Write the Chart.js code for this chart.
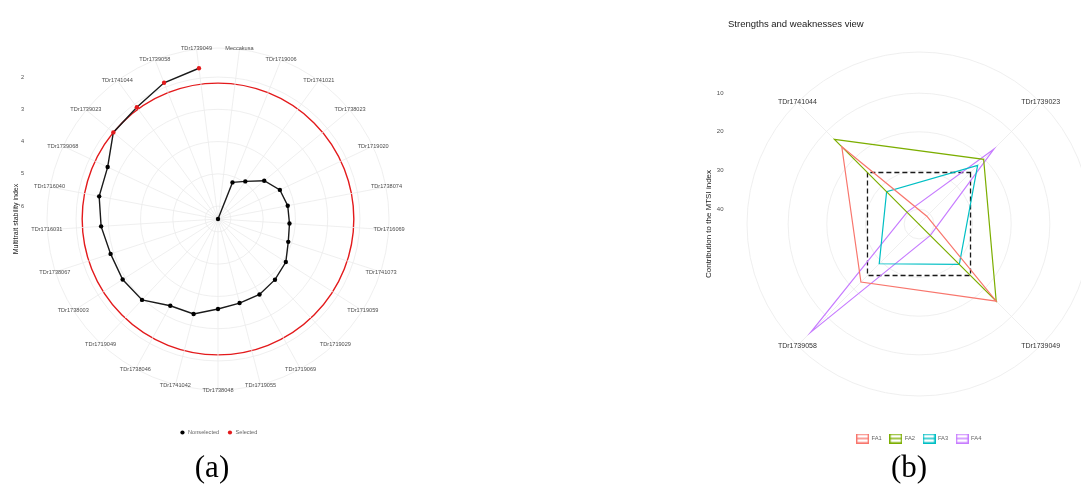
<!DOCTYPE html>
<html>
<head>
<meta charset="utf-8">
<script src="https://cdn.jsdelivr.net/npm/chart.js@4.4.1/dist/chart.umd.min.js"></script>
<style>
  html, body { margin: 0; padding: 0; background: #fff; overflow: hidden; }
  body { width: 1081px; height: 488px; position: relative; }
  canvas { position: absolute; top: 0; }
  #mtsiChart { left: 0; }
  #strengthChart { left: 690px; }
  .caption {
    position: absolute; top: 451px; width: 80px; text-align: center;
    font-family: 'Liberation Serif', 'Times New Roman', serif;
    font-size: 31px; line-height: 31px; color: #000;
  }
</style>
</head>
<body>
<canvas id="mtsiChart" width="440" height="488"></canvas>
<canvas id="strengthChart" width="430" height="488"></canvas>
<div class="caption" style="left:172px">(a)</div>
<div class="caption" style="left:869px">(b)</div>
<script>
// (a) multitrait stability index, genotypes clockwise from the top
var genotypes = ['Meccakusa', 'TDr1719006', 'TDr1741021', 'TDr1738023', 'TDr1719020',
  'TDr1738074', 'TDr1716069', 'TDr1741073', 'TDr1719059', 'TDr1719029', 'TDr1719069',
  'TDr1719055', 'TDr1738048', 'TDr1741042', 'TDr1738046', 'TDr1719049', 'TDr1738003',
  'TDr1738067', 'TDr1716031', 'TDr1716040', 'TDr1739068', 'TDr1739023', 'TDr1741044',
  'TDr1739058', 'TDr1739049'];
var mtsiValues = [6.40, 5.18, 4.96, 4.54, 4.28, 4.20, 4.18, 4.11, 3.91, 3.82, 3.73, 3.71,
  3.61, 3.36, 3.33, 2.96, 2.90, 2.90, 2.77, 2.65, 2.62, 2.19, 2.12, 1.86, 1.69];
var selectedGenotypes = ['TDr1739023', 'TDr1741044', 'TDr1739058', 'TDr1739049'];
var mtsiTicks = [2, 3, 4, 5, 6];
var mtsiRange = [1.10, 6.40];

// (b) strengths and weaknesses, genotypes clockwise from top right
var factorGenotypes = ['TDr1739023', 'TDr1739049', 'TDr1739058', 'TDr1741044'];
var factorNames = ['FA1', 'FA2', 'FA3', 'FA4'];
var fa1 = [41.0, 15.6, 22.6, 15.6];
var fa2 = [20.2, 15.6, 43.8, 12.9];
var fa3 = [22.4, 29.1, 29.3, 32.0];
var fa4 = [16.4, 39.7, 4.3, 39.5];
var equalContribution = [25, 25, 25, 25];
var contributionTicks = [10, 20, 30, 40];
var contributionRange = [-0.65, 43.85];

var RED = '#E31A1C';
var GRID = '#EBEBEB';
var factorColors = ['#F8766D', '#7CAE00', '#00BFC4', '#C77CFF'];

Chart.defaults.font.family = "'Liberation Sans', Arial, sans-serif";

// category labels centred on the outer ring, like ggplot's coord_polar
var spokeLabels = {
  id: 'spokeLabels',
  afterDraw: function (chart, args, opts) {
    var scale = chart.scales.r;
    var ctx = chart.ctx;
    ctx.save();
    ctx.font = opts.size + 'px ' + Chart.defaults.font.family;
    ctx.fillStyle = opts.color;
    ctx.textAlign = 'center';
    ctx.textBaseline = 'middle';
    chart.data.labels.forEach(function (label, i) {
      var p = scale.getPointPosition(i, scale.drawingArea + opts.offset);
      ctx.fillText(label, p.x, p.y);
    });
    ctx.restore();
  }
};

function ringTicks(values) {
  return function (scale) {
    scale.ticks = [scale.max].concat(values, [scale.min]).map(function (v) {
      return { value: v };
    });
  };
}

function sideAxis(range, ticks, width, title, titleSize, titlePad, tickSize, tickPad) {
  return {
    type: 'linear',
    position: 'left',
    reverse: true,
    min: range[0],
    max: 2 * range[1] - range[0],
    afterBuildTicks: function (scale) {
      scale.ticks = ticks.map(function (v) { return { value: v }; });
    },
    afterFit: function (scale) { scale.width = width; },
    grid: { display: false, drawTicks: false },
    border: { display: false },
    ticks: { font: { size: tickSize }, color: '#4D4D4D', padding: tickPad },
    title: {
      display: true, text: title, color: '#1a1a1a',
      font: { size: titleSize }, padding: { top: titlePad, bottom: 0 }
    }
  };
}

// ---------- (a) ----------
var isSelected = genotypes.map(function (g) { return selectedGenotypes.indexOf(g) >= 0; });
var cutoff = Math.max.apply(null, mtsiValues.filter(function (v, i) { return isSelected[i]; }));
var pointColors = isSelected.map(function (s) { return s ? RED : '#000'; });
var pathTail = mtsiValues.map(function (v, i) { return i === 0 ? null : v; });
var pathHead = mtsiValues.map(function (v, i) { return i <= 1 ? v : null; });

new Chart(document.getElementById('mtsiChart'), {
  type: 'radar',
  data: {
    labels: genotypes,
    datasets: [
      {
        label: 'MTSI', data: mtsiValues, showLine: false, fill: false,
        pointRadius: 2.2, pointBorderWidth: 0,
        pointBackgroundColor: pointColors, pointBorderColor: pointColors
      },
      {
        label: 'path', data: pathTail, fill: false, spanGaps: false,
        borderColor: '#1a1a1a', borderWidth: 1.4, pointRadius: 0
      },
      {
        label: 'path start', data: pathHead, fill: false, spanGaps: false,
        borderColor: '#1a1a1a', borderWidth: 1.4, pointRadius: 0
      }
    ]
  },
  options: {
    responsive: false,
    animation: false,
    events: [],
    layout: { padding: { left: 0, top: 48, right: 31, bottom: 42.7 } },
    scales: {
      r: {
        min: mtsiRange[0],
        max: mtsiRange[1],
        reverse: true,
        startAngle: 360 / genotypes.length / 2,
        ticks: { display: false, reverse: true },
        afterBuildTicks: ringTicks(mtsiTicks.concat([cutoff])),
        grid: {
          circular: true,
          color: function (ctx) { return ctx.tick && ctx.tick.value === cutoff ? RED : GRID; },
          lineWidth: function (ctx) { return ctx.tick && ctx.tick.value === cutoff ? 1.4 : 0.8; }
        },
        angleLines: { color: GRID, lineWidth: 0.8 },
        pointLabels: { display: false }
      },
      y: sideAxis(mtsiRange, mtsiTicks, 28, 'Multitrait stability index', 7, 12, 5.6, 4)
    },
    plugins: {
      tooltip: { enabled: false },
      legend: {
        position: 'bottom',
        fullSize: false,
        title: { display: true, text: '', font: { size: 10 }, padding: { top: 19.7, bottom: 0 } },
        labels: {
          usePointStyle: true, boxHeight: 3, padding: 8,
          font: { size: 5.6 }, color: '#1a1a1a',
          generateLabels: function () {
            return [
              { text: 'Nonselected', fillStyle: '#000', strokeStyle: '#000', lineWidth: 0, pointStyle: 'circle', hidden: false },
              { text: 'Selected', fillStyle: RED, strokeStyle: RED, lineWidth: 0, pointStyle: 'circle', hidden: false }
            ];
          }
        }
      },
      spokeLabels: { size: 5.6, color: '#4D4D4D', offset: 0.5 }
    }
  },
  plugins: [spokeLabels]
});

// ---------- (b) ----------
function legendIcon(color) {
  var c = document.createElement('canvas');
  c.width = 13;
  c.height = 10;
  var g = c.getContext('2d');
  g.strokeStyle = color;
  g.lineWidth = 1.4;
  g.strokeRect(0.7, 0.7, 11.6, 8.6);
  g.beginPath();
  g.moveTo(0.7, 5);
  g.lineTo(12.3, 5);
  g.stroke();
  return c;
}

var factorSeries = [fa1, fa2, fa3, fa4];
var factorSets = factorSeries.map(function (values, i) {
  return {
    label: factorNames[i], data: values, fill: false,
    borderColor: factorColors[i], borderWidth: 1.2, pointRadius: 0
  };
});
factorSets.push({
  label: 'equal', data: equalContribution, fill: false,
  borderColor: '#1a1a1a', borderWidth: 1.3, borderDash: [5, 3], pointRadius: 0
});

new Chart(document.getElementById('strengthChart'), {
  type: 'radar',
  data: { labels: factorGenotypes, datasets: factorSets },
  options: {
    responsive: false,
    animation: false,
    events: [],
    layout: { padding: { left: 0, top: 0, right: 10, bottom: 36.6 } },
    scales: {
      r: {
        min: contributionRange[0],
        max: contributionRange[1],
        reverse: true,
        startAngle: 45,
        ticks: { display: false, reverse: true },
        afterBuildTicks: ringTicks(contributionTicks),
        grid: { circular: true, color: GRID, lineWidth: 0.8 },
        angleLines: { color: GRID, lineWidth: 0.8 },
        pointLabels: { display: false }
      },
      y: sideAxis(contributionRange, contributionTicks, 38, 'Contribution to the MTSI index', 8, 14.2, 6, 4.5)
    },
    plugins: {
      tooltip: { enabled: false },
      title: {
        display: true, text: 'Strengths and weaknesses view', align: 'start', fullSize: false,
        color: '#1a1a1a', font: { size: 9.5, weight: 'normal' },
        padding: { top: 18.3, bottom: 22.3 }
      },
      legend: {
        position: 'bottom',
        fullSize: false,
        title: { display: true, text: '', font: { size: 10 }, padding: { top: 19.6, bottom: 0 } },
        labels: {
          usePointStyle: true, pointStyleWidth: 12, padding: 8,
          font: { size: 5.8 }, color: '#1a1a1a',
          generateLabels: function () {
            return factorNames.map(function (name, i) {
              return {
                text: name, pointStyle: legendIcon(factorColors[i]),
                fillStyle: 'transparent', strokeStyle: factorColors[i], lineWidth: 0, hidden: false
              };
            });
          }
        }
      },
      spokeLabels: { size: 7, color: '#333333', offset: 0 }
    }
  },
  plugins: [spokeLabels]
});
</script>
</body>
</html>
